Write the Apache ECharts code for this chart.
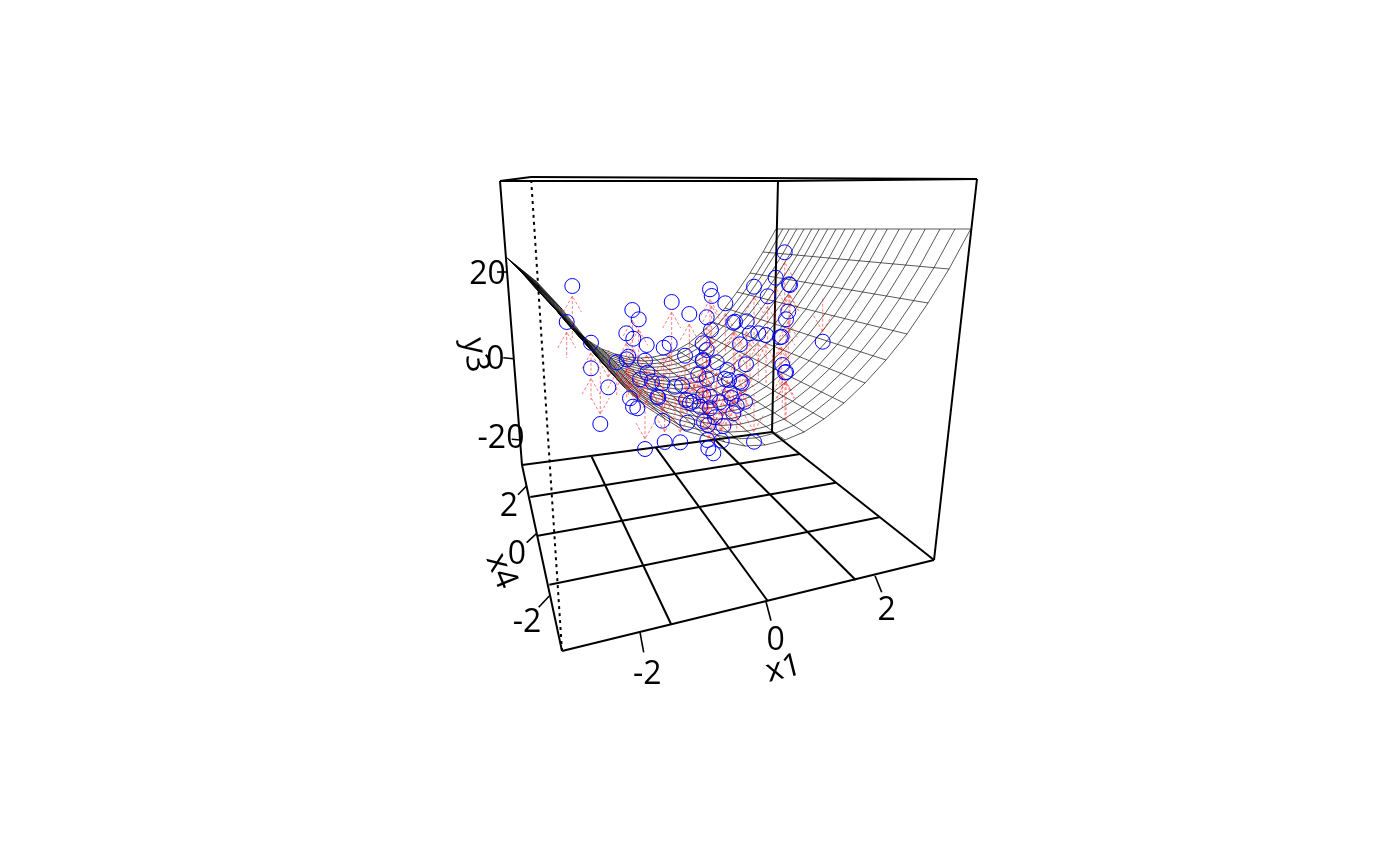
<!DOCTYPE html>
<html>
<head>
<meta charset="utf-8">
<style>html,body{margin:0;padding:0;background:#fff}#c{width:1400px;height:866px}</style>
<script src="https://cdn.jsdelivr.net/npm/echarts@6/dist/echarts.min.js"></script>
</head>
<body>
<div id="c"></div>
<script>
// Projected box edges (page-plane coordinates of the 3D view)
const boxEdges = [
  [[522,465],[500,181]], [[500,181],[778,181]], [[778,181],[772,432]],
  [[500,181],[531,177]], [[531,177],[977,179]], [[778,181],[977,179]],
  [[977,179],[934,560]], [[562,651],[934,560]], [[562,651],[522,465]],
  [[522,465],[772,432]], [[772,432],[934,560]]
];
const hiddenEdge = [[562,651],[531,177]];
const floorLines = [
  [[530.3,497],[800,454]], [[537.7,535.7],[835.7,482.7]], [[549.3,584.7],[879.3,517.3]],
  [[591.7,456.7],[671,624]], [[655.7,447.3],[767.7,601]], [[715.3,440],[855.7,580]]
];
const tickMarks = [
  [[640,632.3],[643.7,652.3]], [[766,601.7],[771,620.7]], [[875,575.7],[881.7,592.3]],
  [[526.7,485.7],[518,494.7]], [[536.7,533.3],[526.7,542.7]], [[549.3,596],[538.7,607.3]],
  [[507,272],[497,272]], [[513.3,358.7],[503.3,357.7]], [[521,440],[511.7,439.3]]
];
const textLabels = [
  ['20',487.5,274.5,0], ['0',495.5,359.5,0], ['-20',501,438.5,0], ['y3',475,355,-82],
  ['2',509,506.5,0], ['0',517,555,0], ['-2',527,622.5,0], ['x4',501,571,-68],
  ['-2',647.3,675,0], ['0',775.7,640.5,0], ['2',886.7,610.5,0], ['x1',783.5,669,14]
];

// Surface: ends of each cross-line, and where the long lines sit along them
const rowBackX  = [776,763,750,737,725,713,701,689,677,665,653,641,628,615,602,589,577,565,552,537,522,506];
const rowBackY  = [229,252,273,292,308,322,333,343,350,354.5,357,358,357,354,349,341,331,321,305,290,273,257];
const rowFrontX = [970.7,949,928,907,886,865,844,824,804,785,765,745,725,705,685,665,645,625,605,585,562,537];
const rowFrontY = [229,269,303,334,360,383,403,419,432,440,445,446,442,436,431,419,406,388,366,338,309,282];
const colTopX   = [776,782.7,789.3,796.7,804,811.7,819.3,827.7,836,845,855,865.7,876.7,887.3,899.3,912,925.3,940,955,970.7];

// Observations: circle centre and the far end of its residual arrow
const pointX = [572.3,566.7,591,591,608.3,600.3,632.3,638.7,626.3,633.3,646.7,663.7,669.7,671.7,689.3,685,616.7,628.3,626.7,645,647.3,640,652,662.3,675,682,630,633,637.3,657.3,658.3,662.3,687.3,686,690,664.7,680.3,645,
  706.7,711,710,711.7,725.3,735,733.3,746.7,750,758.3,766,780,781.7,788.3,786,822.7,740,702.7,706.7,702.7,703,716.7,746,782.3,786,785,698.3,706.7,727.3,725,729,740,741.7,730,731.7,745,736.7,733.3,720,710,703.3,693.3,700,710,715,704,708,723.3,707.3,721.7,754,708.3,713.3,784.7,775.7,754,767.7,789,790];
const pointY = [286,322,342.7,368.3,387.3,424,310,319.3,333.3,338.7,345,347.7,343.7,302,314,355.7,362.3,356.7,359.3,360.7,372.7,379.3,381.7,383.3,386.7,385,398.3,406.7,408.3,396.7,397.7,420.7,422.7,400,403,442,442.3,449,
  317.3,330,289.3,296,303.3,321.7,322.7,321.3,333.3,333.3,335,337.3,336.7,311.5,319.3,341.7,344.3,343.3,350,360,361,362.3,364.3,365,372,372.5,374.7,379,370,379,380,381.7,383,393.3,398,401.7,405.7,413.3,402.3,396.7,395,401.7,406.7,408.3,417.3,421.7,425,426,440,440.7,441.7,448.3,453.3,252.3,277.7,286.7,296.3,284.3,285];
const arrowEndY = [338,358,375,400,350,372,360,365,375,380,390,395,390,365,370,400,395,395,398,395,405,410,412,415,418,418,370,375,378,370,370,385,390,375,378,395,395,400,
  370,375,345,350,355,370,372,370,380,380,385,385,385,360,365,297,390,390,395,405,405,405,410,410,420,420,405,410,405,412,412,415,415,425,428,375,432,380,430,428,428,375,378,385,385,390,392,395,400,402,395,405,405,305,325,335,345,335,335];

const black = '#000';
function mesh() {
  const frac = colTopX.map(x => (x - colTopX[0]) / (colTopX[colTopX.length - 1] - colTopX[0]));
  const vertex = (r, f) => [rowBackX[r] + f * (rowFrontX[r] - rowBackX[r]), rowBackY[r] + f * (rowFrontY[r] - rowBackY[r])];
  const out = [];
  rowBackX.forEach((_, r) => out.push({coords: frac.map(f => vertex(r, f))}));
  frac.forEach(f => out.push({coords: rowBackX.map((_, r) => vertex(r, f))}));
  return out;
}
const arrowShafts = [], arrowHeads = [];
pointX.forEach((x, i) => {
  const y = pointY[i], dir = arrowEndY[i] > y ? 1 : -1, tip = y + dir * 10;
  arrowShafts.push({coords: [[x, tip], [x, arrowEndY[i]]]});
  arrowHeads.push({coords: [[x - 9, tip + dir * 16], [x, tip], [x + 9, tip + dir * 16]]});
});
const linesSeries = (data, width, color, type, z) => ({
  type: 'lines', coordinateSystem: 'cartesian2d', polyline: true, silent: true, z,
  data, symbol: 'none', effect: {show: false},
  lineStyle: {color, width, type, opacity: 1, cap: 'butt'}
});
const asPolys = segs => segs.map(s => ({coords: s}));

const chart = echarts.init(document.getElementById('c'), null, {renderer: 'canvas'});
chart.setOption({
  animation: false,
  backgroundColor: '#fff',
  grid: {left: 0, right: 0, top: 0, bottom: 0},
  xAxis: {type: 'value', min: 0, max: 1400, show: false},
  yAxis: {type: 'value', min: 0, max: 866, inverse: true, show: false},
  series: [
    linesSeries(asPolys(boxEdges), 2, black, 'solid', 2),
    linesSeries(asPolys(floorLines), 2, black, 'solid', 2),
    linesSeries(asPolys(tickMarks), 1.6, black, 'solid', 2),
    linesSeries([{coords: hiddenEdge}], 2, black, [3, 4], 2),
    linesSeries(mesh(), 0.65, black, 'solid', 3),
    linesSeries(arrowShafts, 0.5, '#ff0000', [3, 2], 4),
    linesSeries(arrowHeads, 0.5, '#ff0000', [3, 2], 4),
    {
      type: 'scatter', silent: true, z: 5, symbol: 'circle', symbolSize: 15,
      data: pointX.map((x, i) => [x, pointY[i]]),
      itemStyle: {color: 'rgba(0,0,0,0)', borderColor: '#0000ff', borderWidth: 1, opacity: 1}
    },
    {
      type: 'scatter', silent: true, z: 6, symbol: 'circle', symbolSize: 1,
      itemStyle: {color: 'rgba(0,0,0,0)'},
      label: {show: true, color: '#000000', fontFamily: 'Open Sans', fontSize: 32},
      data: textLabels.map(t => ({
        value: [t[1], t[2]],
        label: {show: true, formatter: t[0], rotate: t[3], position: 'inside', align: 'center', verticalAlign: 'middle',
          fontFamily: 'Open Sans', fontSize: 32, color: '#000000', opacity: 1}
      }))
    }
  ]
});
</script>
</body>
</html>
